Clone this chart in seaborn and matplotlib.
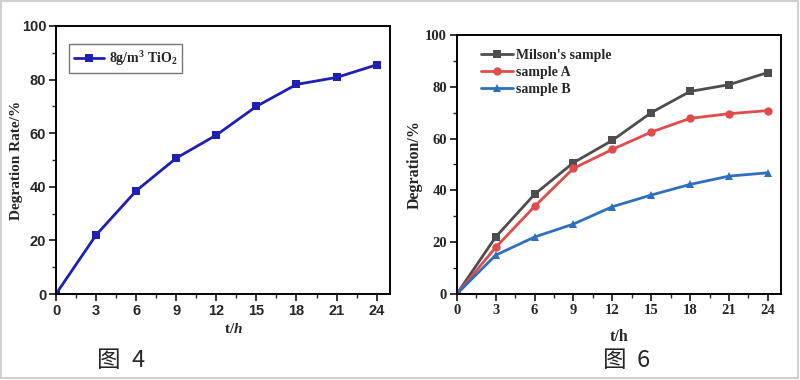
import matplotlib
matplotlib.use("Agg")
import matplotlib.pyplot as plt
from matplotlib.ticker import MultipleLocator
from matplotlib.patches import Rectangle
import pandas as pd
import seaborn as sns

# data
hours = [0, 3, 6, 9, 12, 15, 18, 21, 24]
milson = [0, 22.0, 38.5, 50.7, 59.3, 70.0, 78.2, 80.8, 85.5]
sample_a = [0, 18.0, 33.8, 48.5, 55.8, 62.5, 67.8, 69.6, 70.8]
sample_b = [0, 15.0, 22.0, 27.0, 33.7, 38.2, 42.3, 45.5, 46.8]
series_names = ["Milson's sample", "sample A", "sample B"]
series_colors = ["#4d4d4d", "#e04b4b", "#2f6fbf"]
series_markers = ["s", "o", "^"]

sns.set_theme(style="ticks")
plt.rcParams["font.family"] = ["Liberation Serif", "DejaVu Sans"]
plt.rcParams["mathtext.fontset"] = "custom"
plt.rcParams["mathtext.rm"] = "Liberation Serif:bold"
plt.rcParams["mathtext.it"] = "Liberation Serif:bold:italic"
plt.rcParams["axes.linewidth"] = 1.4

fig = plt.figure(figsize=(8, 3.8), dpi=100)
fig.patch.set_facecolor("white")
fig.patches.append(Rectangle((0.001, 0.004), 0.996, 0.993, transform=fig.transFigure,
                             fill=False, edgecolor="#d0d0d0", linewidth=1.5))

ax1 = fig.add_axes([0.07, 0.2263, 0.4175, 0.7053])
ax2 = fig.add_axes([0.571, 0.2263, 0.405, 0.6817])


def style_axes(ax, tick_font):
    ax.set_xlim(0, 25)
    ax.set_ylim(0, 100)
    ax.xaxis.set_major_locator(MultipleLocator(3))
    ax.xaxis.set_minor_locator(MultipleLocator(1.5))
    ax.yaxis.set_major_locator(MultipleLocator(20))
    ax.yaxis.set_minor_locator(MultipleLocator(10))
    ax.tick_params(which="major", direction="out", length=5, width=1.3, pad=2)
    ax.tick_params(which="minor", direction="out", length=3, width=1.0)
    for s in ax.spines.values():
        s.set_visible(True)
        s.set_color("black")
    for lab in ax.get_xticklabels() + ax.get_yticklabels():
        lab.set_fontfamily(tick_font)
        lab.set_fontweight("bold")
        lab.set_fontsize(10.5)


# left panel
sns.lineplot(x=hours, y=milson, ax=ax1, color="#1f1fb4", marker="s", markersize=6,
             markeredgewidth=0, linewidth=2, label="8g/m$^3$ TiO$_2$")
style_axes(ax1, "Liberation Sans")
ax1.set_xlabel("t/$\\mathit{h}$", fontsize=11, fontweight="bold")
ax1.set_ylabel("Degration Rate/%", fontsize=11, fontweight="bold")
ax1.xaxis.set_label_coords(0.53, -0.104)
ax1.yaxis.set_label_coords(-0.099, 0.5)
leg1 = ax1.legend(loc="upper left", bbox_to_anchor=(0.039, 0.933), frameon=True,
                  fancybox=False, edgecolor="#555555", handlelength=2.2,
                  prop={"family": "Liberation Serif", "weight": "bold", "size": 10},
                  borderpad=0.35, handletextpad=0.3, borderaxespad=0)
leg1.get_frame().set_linewidth(1.0)

# right panel
df = pd.DataFrame({
    "t": hours * 3,
    "value": milson + sample_a + sample_b,
    "series": [n for n in series_names for _ in hours],
})
sns.lineplot(data=df, x="t", y="value", hue="series", style="series", ax=ax2,
             palette=series_colors, markers=series_markers, dashes=False,
             markersize=6, markeredgewidth=0, linewidth=2)
style_axes(ax2, "Liberation Serif")
ax2.set_xlabel("t/h", fontsize=11.5, fontweight="bold")
ax2.set_ylabel("Degration/%", fontsize=11.5, fontweight="bold")
ax2.xaxis.set_label_coords(0.5, -0.135)
ax2.yaxis.set_label_coords(-0.105, 0.5)
ax2.legend(loc="upper left", bbox_to_anchor=(0.074, 0.946), frameon=False,
           handlelength=2.3, labelspacing=0.3, handletextpad=0.25,
           borderpad=0, borderaxespad=0,
           prop={"family": "Liberation Serif", "weight": "bold", "size": 10})

# captions
cap_font = ["Noto Sans CJK SC", "DejaVu Sans"]
fig.text(0.121, 0.035, "图", fontsize=17, family=cap_font)
fig.text(0.165, 0.035, "4", fontsize=17, family=cap_font)
fig.text(0.754, 0.035, "图", fontsize=17, family=cap_font)
fig.text(0.796, 0.035, "6", fontsize=17, family=cap_font)

fig.savefig("out.png", dpi=100)
